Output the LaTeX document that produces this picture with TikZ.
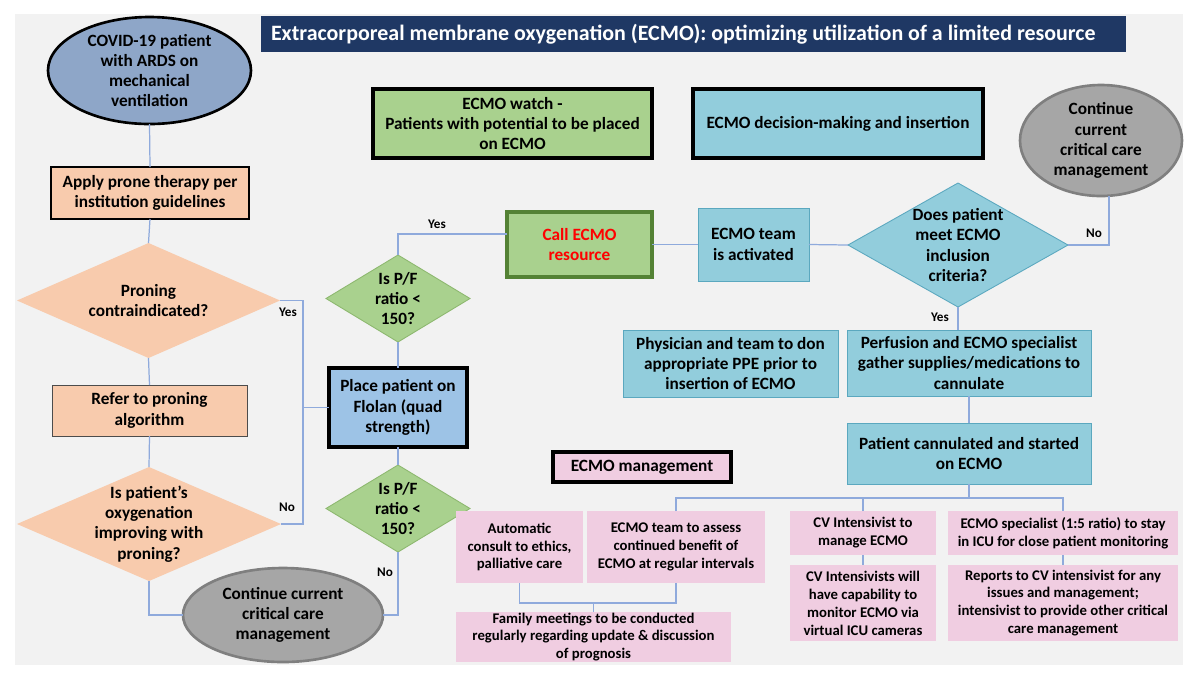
\documentclass[tikz,border=0pt]{standalone}
\usepackage{fontspec}
\setmainfont{Carlito}
\usetikzlibrary{shapes.geometric,calc}

\definecolor{panel}{HTML}{F2F2F2}
\definecolor{navy}{HTML}{1F3864}
\definecolor{peach}{HTML}{F8CBAD}
\definecolor{slate}{HTML}{8EA6C8}
\definecolor{stone}{HTML}{A6A6A6}
\definecolor{stonedark}{HTML}{7F7F7F}
\definecolor{leaf}{HTML}{A9D18E}
\definecolor{leafdark}{HTML}{548235}
\definecolor{leafline}{HTML}{8DB86F}
\definecolor{aqua}{HTML}{92CDDC}
\definecolor{aqualine}{HTML}{5BA8BF}
\definecolor{sky}{HTML}{9DC3E6}
\definecolor{rose}{HTML}{F0CDE1}
\definecolor{wire}{HTML}{8FAADC}

\tikzset{
  wh/.style 2 args={minimum width=#1*0.02cm, minimum height=#2*0.02cm},
  base/.style={inner sep=0pt, outer sep=0pt, align=center,
    font=\fontsize{9.8}{11.5}\selectfont\bfseries},
  say/.style={label={[base]center:{#1}}},
  titletext/.style={base, text=white, anchor=west, xshift=0.2cm,
    font=\fontsize{12.5}{15}\selectfont\bfseries},
  peachbox/.style={base, rectangle, fill=peach},
  aquabox/.style={base, rectangle, fill=aqua, draw=aqualine, line width=0.5pt},
  rosebox/.style={base, rectangle, fill=rose,
    font=\fontsize{8.4}{10.2}\selectfont\bfseries},
  legend/.style={base, rectangle, draw=black, line width=2pt},
  dia/.style={base, diamond},
  blob/.style={base, ellipse, line width=1.5pt},
  yn/.style={inner sep=0pt, font=\fontsize{7.5}{9}\selectfont\bfseries},
  link/.style={draw=wire, line width=0.7pt}
}

\begin{document}
\begin{tikzpicture}[x=0.02cm, y=-0.02cm]
    \useasboundingbox (0,0) rectangle (1200,681);
    \fill[white] (0,0) rectangle (1200,681);
    \fill[panel] (15,14) rectangle (1183,665);

    % title and legend
    \node[base, rectangle, fill=navy, wh={865}{36},
        label={[titletext]west:{Extracorporeal membrane oxygenation (ECMO): optimizing utilization of a limited resource}}]
        (title) at (693.5,34) {};
    \node[legend, fill=leaf, wh={279}{69}] (watch) at (512.5,123.5)
        {ECMO watch -\\Patients with potential to be placed\\on ECMO};
    \node[legend, fill=aqua, wh={290}{69}] (decide) at (838,123.5)
        {ECMO decision-making and insertion};
    \node[legend, fill=rose, line width=1.8pt, wh={178}{30}] (mgmt) at (642,467) {ECMO management};

    % proning column
    \node[blob, fill=slate, draw=black, wh={203}{107},
        say={COVID-19 patient\\with ARDS on\\mechanical\\ventilation}] (covid) at (149.5,70.5) {};
    \node[peachbox, draw=black, line width=1.3pt, wh={198}{52}] (apply) at (150,193)
        {Apply prone therapy per\\institution guidelines};
    \node[dia, fill=peach, wh={263}{115}, say={Proning\\contraindicated?}] (contra) at (148.5,300.5) {};
    \node[peachbox, draw=black!70, line width=0.5pt, wh={195}{51}] (refer) at (149.5,410.5)
        {Refer to proning\\algorithm};
    \node[dia, fill=peach, wh={264}{114},
        say={Is patient's\\oxygenation\\improving with\\proning?}] (oxy) at (149,524) {};
    \node[blob, fill=stone, draw=stonedark, wh={200}{94},
        say={Continue current\\critical care\\management}] (cont1) at (283,615) {};

    % Flolan column
    \node[dia, fill=leaf, draw=leafline, line width=0.5pt, wh={144}{87},
        say={Is P/F\\ratio <\\150?}] (pf1) at (398,298.5) {};
    \node[base, rectangle, fill=sky, draw=black, line width=2pt, wh={138}{79}] (flolan) at (398,407.5)
        {Place patient on\\Flolan (quad\\strength)};
    \node[dia, fill=leaf, draw=leafline, line width=0.5pt, wh={144}{87},
        say={Is P/F\\ratio <\\150?}] (pf2) at (398,508.5) {};

    % ECMO decision
    \node[base, rectangle, fill=leaf, draw=leafdark, line width=2pt, text=red, wh={145}{65}]
        (call) at (579.5,244.5) {Call ECMO\\resource};
    \node[aquabox, wh={111}{73}] (team) at (753.5,244.5) {ECMO team\\is activated};
    \node[dia, fill=aqua, draw=aqualine, line width=0.5pt, wh={220}{124},
        say={Does patient\\meet ECMO\\inclusion\\criteria?}] (incl) at (958,245) {};
    \node[blob, fill=stone, draw=stonedark, wh={162}{111},
        say={Continue\\current\\critical care\\management}] (cont2) at (1101,140.5) {};
    \node[aquabox, wh={215}{67}] (ppe) at (730.5,363.5)
        {Physician and team to don\\appropriate PPE prior to\\insertion of ECMO};
    \node[aquabox, wh={244}{66}] (perf) at (969,363)
        {Perfusion and ECMO specialist\\gather supplies/medications to\\cannulate};
    \node[aquabox, wh={244}{61}] (cann) at (969,453.5) {Patient cannulated and started\\on ECMO};

    % ECMO management
    \node[rosebox, wh={127}{72}] (auto) at (519.5,547) {Automatic\\consult to ethics,\\palliative care};
    \node[rosebox, wh={178}{72}] (assess) at (676,547)
        {ECMO team to assess\\continued benefit of\\ECMO at regular intervals};
    \node[rosebox, wh={275}{50}] (family) at (593.5,637)
        {Family meetings to be conducted\\regularly regarding update \& discussion\\of prognosis};
    \node[rosebox, wh={146}{44}] (cvi) at (863,533) {CV Intensivist to\\manage ECMO};
    \node[rosebox, wh={146}{76}] (cvmon) at (863,603)
        {CV Intensivists will\\have capability to\\monitor ECMO via\\virtual ICU cameras};
    \node[rosebox, wh={230}{44}] (spec) at (1063,533)
        {ECMO specialist (1:5 ratio) to stay\\in ICU for close patient monitoring};
    \node[rosebox, wh={230}{76}] (report) at (1063,603)
        {Reports to CV intensivist for any\\issues and management;\\intensivist to provide other critical\\care management};

    % yes / no
    \node[yn] (yes1) at (288,312) {Yes};
    \node[yn] (no1) at (287,507) {No};
    \node[yn] (yes2) at (437,224) {Yes};
    \node[yn] (no2) at (385,572) {No};
    \node[yn] (no3) at (1094,233) {No};
    \node[yn] (yes3) at (940,317) {Yes};

    % connectors
    \coordinate (join) at (303,407.5);
    \coordinate (split) at ($(cann.south)+(0,14)$);
    \coordinate (meet) at ($(family.north)+(0,-9)$);

    \draw[link] (covid.south) -- (apply.north);
    \draw[link] (apply.south) -- (contra.north);
    \draw[link] (contra.south) -- (refer.north);
    \draw[link] (refer.south) -- (oxy.north);
    \draw[link] (contra.east) -| (join) -- (flolan.west);
    \draw[link] (oxy.east) -| (join);
    \draw[link] (oxy.south) |- (cont1.west);
    \draw[link] (pf2.south) |- (cont1.east);
    \draw[link] (pf1.south) -- (flolan.north);
    \draw[link] (flolan.south) -- (pf2.north);
    \draw[link] (pf1.north) |- ([yshift=0.21cm]call.west);
    \draw[link] (call.east) -- (team.west);
    \draw[link] (team.east) -- (incl.west);
    \draw[link] (incl.east) -| ([xshift=0.16cm]cont2.south);
    \draw[link] (incl.south) -- (incl.south |- perf.north);
    \draw[link] (perf.south) -- (cann.north);
    \draw[link] (cann.south) -- (split);
    \draw[link] (assess.north) |- (split) -| (spec.north);
    \draw[link] (cvi.north) -- (cvi.north |- split);
    \draw[link] (cvi.south) -- (cvmon.north);
    \draw[link] (spec.south) -- (report.north);
    \draw[link] (auto.south) |- (meet) -| (assess.south);
    \draw[link] (meet) -- (family.north);
\end{tikzpicture}
\end{document}
